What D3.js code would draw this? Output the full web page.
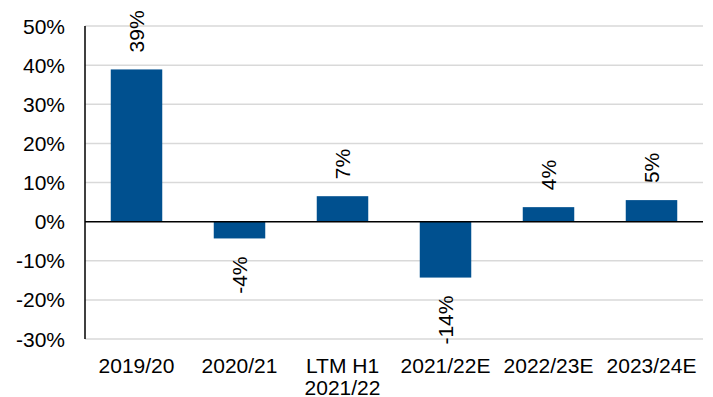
<!DOCTYPE html>
<html>
<head>
<meta charset="utf-8">
<script src="https://cdn.jsdelivr.net/npm/d3@7"></script>
<style>
  body { margin: 0; background: #fff; }
  text { font-family: "Liberation Sans", Arial, sans-serif; fill: #000; }
</style>
</head>
<body>
<svg id="chart"></svg>
<script>
const width = 713;
const height = 397;

// Données
const categories = ["2019/20", "2020/21", "LTM H1\n2021/22", "2021/22E", "2022/23E", "2023/24E"];
const values = [38.9, -4.3, 6.5, -14.3, 3.7, 5.5];
const valueLabels = ["39%", "-4%", "7%", "-14%", "4%", "5%"];
const yTicks = [-30, -20, -10, 0, 10, 20, 30, 40, 50];

const margin = { top: 26, right: 10, bottom: 58, left: 85 };
const fontSize = 21;
const barColor = "#00508f";

const svg = d3.select("#chart")
  .attr("width", width)
  .attr("height", height);

const x = d3.scaleBand()
  .domain(categories)
  .range([margin.left, width - margin.right])
  .paddingInner(0.5)
  .paddingOuter(0.25);

const y = d3.scaleLinear()
  .domain([-30, 50])
  .range([height - margin.bottom, margin.top]);

// Grille
svg.append("g")
  .selectAll("line")
  .data(yTicks.filter(d => d !== 0))
  .join("line")
  .attr("x1", margin.left)
  .attr("x2", width - margin.right)
  .attr("y1", d => y(d))
  .attr("y2", d => y(d))
  .attr("stroke", "#d9d9d9")
  .attr("stroke-width", 1.5);

// Étiquettes de l'axe Y
svg.append("g")
  .selectAll("text")
  .data(yTicks)
  .join("text")
  .attr("x", margin.left - 20)
  .attr("y", d => y(d))
  .attr("dy", "0.36em")
  .attr("text-anchor", "end")
  .style("font-size", fontSize + "px")
  .text(d => d + "%");

// Barres
svg.append("g")
  .selectAll("rect")
  .data(values)
  .join("rect")
  .attr("x", (d, i) => x(categories[i]))
  .attr("width", x.bandwidth())
  .attr("y", d => y(Math.max(0, d)))
  .attr("height", d => Math.abs(y(d) - y(0)))
  .attr("fill", barColor);

// Axe vertical et ligne du zéro
svg.append("line")
  .attr("x1", margin.left).attr("x2", margin.left)
  .attr("y1", y(50)).attr("y2", y(-30))
  .attr("stroke", "#000").attr("stroke-width", 1.5);

svg.append("line")
  .attr("x1", margin.left).attr("x2", width - margin.right)
  .attr("y1", y(0)).attr("y2", y(0))
  .attr("stroke", "#000").attr("stroke-width", 1.5);

// Étiquettes des valeurs (verticales)
svg.append("g")
  .selectAll("text")
  .data(values)
  .join("text")
  .attr("transform", (d, i) => {
    const cx = x(categories[i]) + x.bandwidth() / 2;
    const cy = d >= 0 ? y(d) - 17 : y(d) + 18;
    return `translate(${cx},${cy}) rotate(-90)`;
  })
  .attr("text-anchor", d => d >= 0 ? "start" : "end")
  .attr("dy", "0.36em")
  .style("font-size", fontSize + "px")
  .text((d, i) => valueLabels[i]);

// Étiquettes des catégories
const xLabels = svg.append("g")
  .selectAll("text")
  .data(categories)
  .join("text")
  .attr("x", d => x(d) + x.bandwidth() / 2)
  .attr("y", 373)
  .attr("text-anchor", "middle")
  .style("font-size", fontSize + "px");

xLabels.selectAll("tspan")
  .data(d => d.split("\n"))
  .join("tspan")
  .attr("x", function () { return d3.select(this.parentNode).attr("x"); })
  .attr("dy", (d, i) => i === 0 ? 0 : 22)
  .text(d => d);
</script>
</body>
</html>
